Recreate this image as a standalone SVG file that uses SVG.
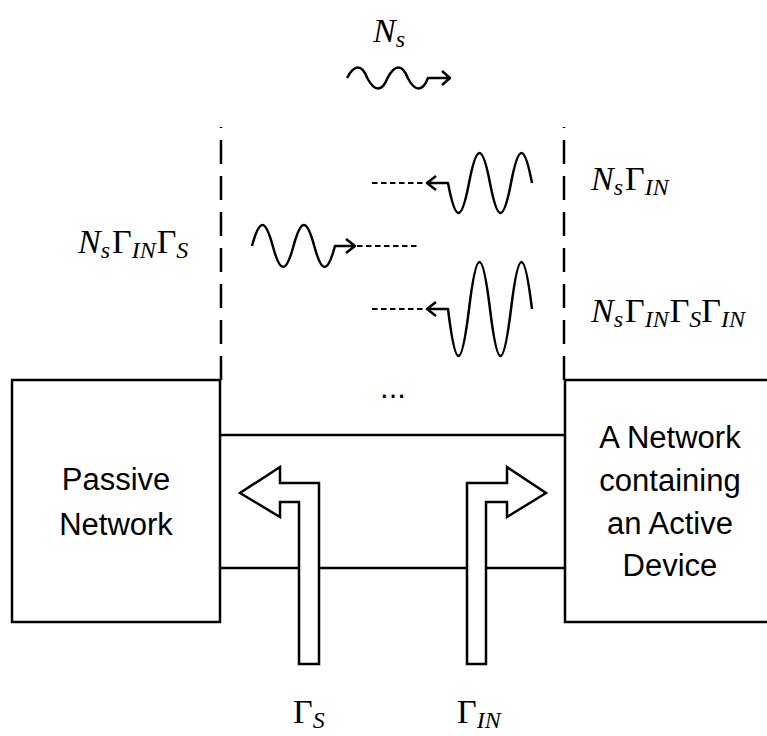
<svg xmlns="http://www.w3.org/2000/svg" width="767" height="736" viewBox="0 0 767 736">
<style>
.ln{fill:none;stroke:#000;stroke-width:2.5;stroke-linecap:butt;stroke-linejoin:miter}
.wave{fill:none;stroke:#000;stroke-width:2.5;stroke-linejoin:round}
.dot{fill:none;stroke:#000;stroke-width:2.2;stroke-dasharray:5.5 3.5}
.dash{fill:none;stroke:#000;stroke-width:2.5;stroke-dasharray:24 12}
.blk{fill:#fff;stroke:#000;stroke-width:2.5;stroke-linejoin:miter}
.lbl{font-family:"Liberation Sans",Arial,sans-serif;font-size:31px;fill:#000;text-anchor:middle}
.m{font-family:"Liberation Serif","DejaVu Serif",serif;font-size:34px;fill:#000}
.i{font-style:italic}
.s{font-size:24px;font-style:italic}
</style>
<rect width="767" height="736" fill="#fff"/>
<g id="passive-network">
<rect class="ln" x="12" y="380" width="208" height="242"/>
<text class="lbl" x="116" y="490">Passive</text>
<text class="lbl" x="116" y="535">Network</text>
</g>
<g id="active-network">
<rect class="ln" x="565" y="380" width="210" height="242"/>
<text class="lbl" x="670" y="448">A Network</text>
<text class="lbl" x="670" y="491">containing</text>
<text class="lbl" x="670" y="534">an Active</text>
<text class="lbl" x="670" y="576">Device</text>
</g>
<g id="connectors">
<path class="ln" d="M220,435 H565 M220,568 H565"/>
<path class="dash" d="M221,380 V127"/>
<path class="dash" d="M564,380 V127"/>
</g>
<g id="waves">
<path class="wave" d="M347,78 C354.4,64 361.9,64 367.25,78 C374.6,92 382.1,92 387.5,78 C394.9,64 402.4,64 407.75,78 C415.1,92 422.6,92 428,78 L450,78 M442,71 L450,78 L442,85"/>
<path class="wave" d="M252,246 C259.55,218 265.2,218 272.75,246 C280.3,274 285.95,274 293.5,246 C301.05,218 306.7,218 314.25,246 C321.8,274 327.45,274 335,246 L355,246 M346,239 L355,246 L346,253"/>
<path class="dot" d="M357,246 H417"/>
<path class="wave" d="M532,183 C524.36,143 518.64,143 511,183 C503.36,223 497.64,223 490,183 C482.36,143 476.64,143 469,183 C461.36,223 455.64,223 448,183 L427,183 M436,176 L427,183 L436,190"/>
<path class="dot" d="M372,183 H426"/>
<path class="wave" d="M532,309 C524.36,246.3 518.64,246.3 511,309 C503.36,371.7 497.64,371.7 490,309 C482.36,246.3 476.64,246.3 469,309 C461.36,371.7 455.64,371.7 448,309 L427,309 M436,302 L427,309 L436,316"/>
<path class="dot" d="M372,309 H426"/>
<text class="lbl" x="393" y="398">...</text>
</g>
<g id="gamma-s-arrow">
<polygon class="blk" points="319,664 319,483 280,483 280,467 240,493 280,517 280,502 299,502 299,664"/>
</g>
<g id="gamma-in-arrow">
<polygon class="blk" points="467,664 467,483 507,483 507,467 546,493 507,517 507,502 486,502 486,664"/>
</g>
<g id="labels">
<text class="m" x="373" y="42"><tspan class="i">N</tspan><tspan class="s" dy="5">s</tspan></text>
<text class="m" x="591" y="190"><tspan class="i">N</tspan><tspan class="s" dy="5">s</tspan><tspan dx="2" dy="-5">Γ</tspan><tspan class="s" dy="5">IN</tspan></text>
<text class="m" x="591" y="322"><tspan class="i">N</tspan><tspan class="s" dy="5">s</tspan><tspan dx="2" dy="-5">Γ</tspan><tspan class="s" dy="5">IN</tspan><tspan dx="1" dy="-5">Γ</tspan><tspan class="s" dy="5">S</tspan><tspan dy="-5">Γ</tspan><tspan class="s" dy="5">IN</tspan></text>
<text class="m" x="78" y="253"><tspan class="i">N</tspan><tspan class="s" dy="5">s</tspan><tspan dx="2" dy="-5">Γ</tspan><tspan class="s" dy="5">IN</tspan><tspan dx="1" dy="-5">Γ</tspan><tspan class="s" dy="5">S</tspan></text>
<text class="m" x="293" y="723">Γ<tspan class="s" dy="5">S</tspan></text>
<text class="m" x="457" y="723">Γ<tspan class="s" dy="5">IN</tspan></text>
</g>
</svg>
